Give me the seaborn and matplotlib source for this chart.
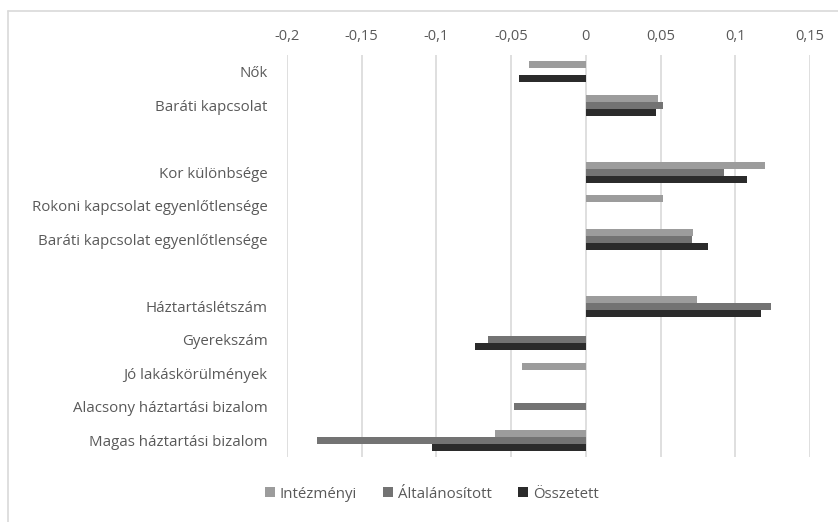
import numpy as np
import pandas as pd
import matplotlib
matplotlib.use("Agg")
import matplotlib.pyplot as plt
from matplotlib.lines import Line2D
import seaborn as sns

categories = ["Nők", "Baráti kapcsolat", " ", "Kor különbsége",
              "Rokoni kapcsolat egyenlőtlensége", "Baráti kapcsolat egyenlőtlensége",
              "  ", "Háztartáslétszám", "Gyerekszám", "Jó lakáskörülmények",
              "Alacsony háztartási bizalom", "Magas háztartási bizalom"]
series = ["Intézményi", "Általánosított", "Összetett"]
intezmenyi = [-0.038, 0.048, np.nan, 0.1196, 0.0513, 0.072, np.nan, 0.0747, np.nan, -0.0427, np.nan, -0.061]
altalanositott = [np.nan, 0.0513, np.nan, 0.0924, np.nan, 0.0707, np.nan, 0.124, -0.0657, np.nan, -0.0478, -0.180]
osszetett = [-0.0446, 0.047, np.nan, 0.108, np.nan, 0.0818, np.nan, 0.117, -0.0742, np.nan, np.nan, -0.103]
xticks = [-0.2, -0.15, -0.1, -0.05, 0, 0.05, 0.1, 0.15]
xtick_labels = ["-0,2", "-0,15", "-0,1", "-0,05", "0", "0,05", "0,1", "0,15"]
colors = ["#9c9c9c", "#737373", "#2b2b2b"]

rows = []
for s, vals in zip(series, [intezmenyi, altalanositott, osszetett]):
    for c, v in zip(categories, vals):
        rows.append({"cat": c, "series": s, "value": v})
df = pd.DataFrame(rows)

sns.set_theme(style="white")
plt.rcParams["font.family"] = ["Open Sans", "DejaVu Sans"]
txt = "#595959"

fig = plt.figure(figsize=(8.38, 5.22), dpi=100)
ax = fig.add_axes([287/838, 1-457/522, (810-287)/838, (457-55)/522])

sns.barplot(data=df, x="value", y="cat", hue="series", order=categories,
            hue_order=series, palette=colors, orient="h", width=0.62,
            dodge=True, ax=ax, legend=True, saturation=1, errorbar=None,
            edgecolor="none")

ax.set_xlim(-0.2, 0.15)
ax.set_ylim(len(categories) - 0.5, -0.5)
ax.set_xticks(xticks)
ax.set_xticklabels(xtick_labels)
ax.xaxis.tick_top()
ax.tick_params(axis="x", length=0, pad=8, labelsize=10.5, labelcolor=txt)
ax.tick_params(axis="y", length=0, pad=14, labelsize=10.8, labelcolor=txt)
ax.set_xlabel("")
ax.set_ylabel("")
ax.grid(axis="x", color="#d9d9d9", linewidth=1.2)
ax.set_axisbelow(True)
for sp in ax.spines.values():
    sp.set_visible(False)

leg = ax.legend(loc="center", bbox_to_anchor=(0.515, 1-494/522), bbox_transform=fig.transFigure,
                ncol=3, frameon=False, fontsize=10.8, handlelength=0.65, handleheight=0.65,
                handletextpad=0.3, columnspacing=1.8)
for t in leg.get_texts():
    t.set_color(txt)

fig.add_artist(Line2D([7.5/838, 7.5/838], [0, 1-10.5/522], transform=fig.transFigure,
                      color="#d9d9d9", linewidth=1.2))
fig.add_artist(Line2D([7.5/838, 1], [1-10.5/522, 1-10.5/522], transform=fig.transFigure,
                      color="#d9d9d9", linewidth=1.2))

fig.savefig("out.png", dpi=100)
